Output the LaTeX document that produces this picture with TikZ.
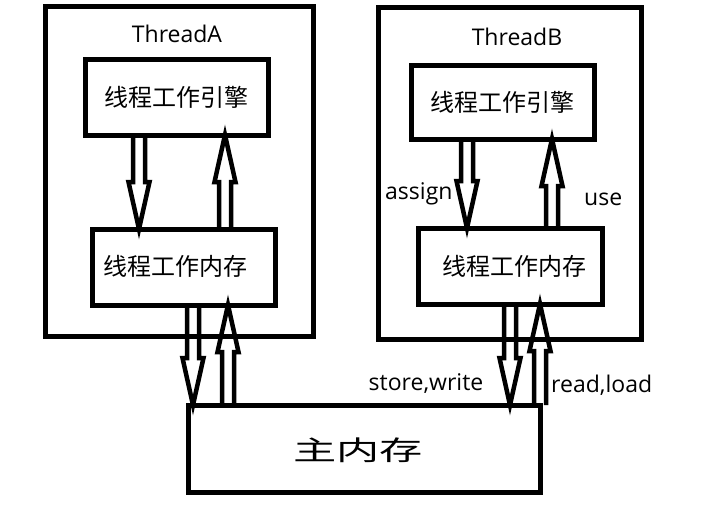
\documentclass[tikz,border=0pt]{standalone}
\usepackage{fontspec}
\usepackage{graphicx}
\setmainfont{Open Sans}
\newfontfamily\cjk{Noto Sans CJK SC}
\usetikzlibrary{calc}
\tikzset{
  box/.style={draw=black, line width=5pt, outer sep=0pt, inner sep=0pt},
  hollow/.style={draw=black, line width=4.5pt, line join=miter},
  lbl/.style={font=\fontsize{23}{26}\selectfont, inner sep=0pt},
  zh/.style={font=\fontsize{24}{27}\selectfont\cjk, inner sep=0pt}
}
\newcommand\harrow[3]{%
  \coordinate (hs) at (#2 -| #1,0);
  \coordinate (he) at (#3 -| #1,0);
  \coordinate (hb) at ($(he)!47pt!(hs)$);
  \draw[hollow] ($(hs)!6pt!90:(he)$) -- ($(hb)!6pt!90:(he)$) -- ($(hb)!10.5pt!90:(he)$)
    -- (he) -- ($(hb)!10.5pt!-90:(he)$) -- ($(hb)!6pt!-90:(he)$) -- ($(hs)!6pt!-90:(he)$);
}
\begin{document}
\begin{tikzpicture}[x=1pt,y=-1pt]
\useasboundingbox (0,0) rectangle (702,511);
% outer thread boxes
\node[box, minimum width=268pt, minimum height=329pt] (ta) at (179,171.5) {};
\node[box, minimum width=263pt, minimum height=331pt] (tb) at (509.5,173.5) {};
\node[lbl, anchor=base] (tal) at (177,43) {ThreadA};
\node[lbl, anchor=base] (tbl) at (517,46) {ThreadB};
% inner boxes
\node[box, minimum width=183pt, minimum height=75pt, zh] (ea) at (176.5,97.5) {线程工作引擎};
\node[box, minimum width=183pt, minimum height=76pt] (wa) at (183.5,267) {};
\node[zh] (wal) at (175,266) {线程工作内存};
\node[box, minimum width=183pt, minimum height=73pt, zh] (eb) at (502.5,102.5) {线程工作引擎};
\node[box, minimum width=184pt, minimum height=76pt] (wb) at (510,266) {};
\node[zh] (wbl) at (514,266) {线程工作内存};
% main memory
\node[box, minimum width=352pt, minimum height=87pt] (mm) at (364,448.5) {};
\node[inner sep=0pt] (mml) at (358,450) {\scalebox{1.6}[1]{\fontsize{27}{30}\selectfont\cjk 主内存}};
% arrows thread A
\harrow{139}{ea.south}{wa.north}
\harrow{225}{wa.north}{ea.south}
\harrow{193}{wa.south}{mm.north}
\harrow{228}{mm.north}{wa.south}
% arrows thread B
\harrow{467}{eb.south}{wb.north}
\harrow{552}{wb.north}{eb.south}
\harrow{510}{wb.south}{mm.north}
\harrow{540}{mm.north}{wb.south}
% labels
\node[lbl, anchor=base west] (las) at (385,199) {assign};
\node[lbl, anchor=base west] (lus) at (584,205) {use};
\node[lbl, anchor=base] (lsw) at (426,390) {store,write};
\node[lbl, anchor=base west] (lrl) at (551,392) {read,load};
\end{tikzpicture}
\end{document}
